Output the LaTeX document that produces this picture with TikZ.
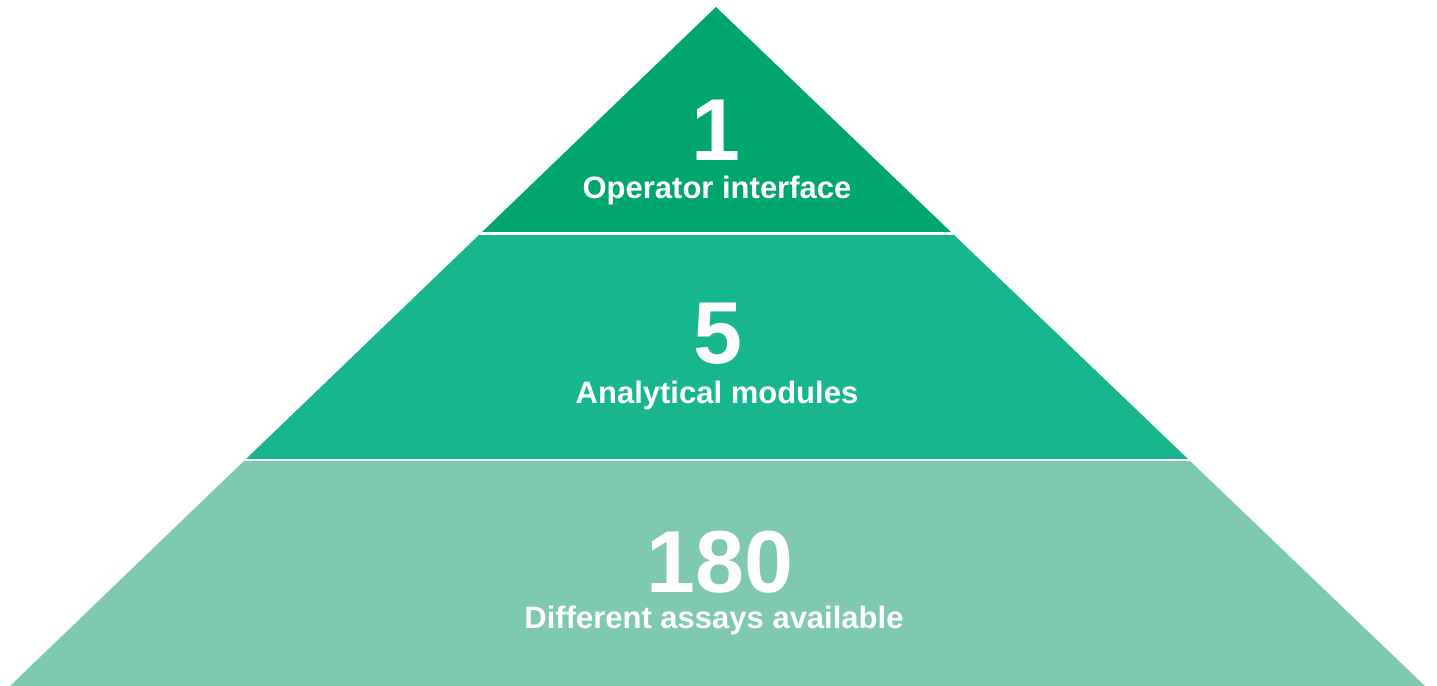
\documentclass[tikz,border=0pt]{standalone}
\usepackage{fontspec}
\setmainfont{Liberation Sans}
\definecolor{topgreen}{HTML}{00A66E}
\definecolor{midgreen}{HTML}{17B68E}
\definecolor{basegreen}{HTML}{7FCAAF}

\begin{document}
\begin{tikzpicture}[x=0.5pt,y=-0.5pt,
    bignum/.style={text=white,anchor=base,inner sep=0pt,font=\fontsize{44}{44}\selectfont\bfseries},
    tiername/.style={text=white,anchor=base,inner sep=0pt,font=\fontsize{15.5}{16}\selectfont\bfseries}]

\useasboundingbox (0,0) rectangle (1437,686);

\coordinate (apex) at (716,7);
\coordinate (baseL) at (10,686);
\coordinate (baseR) at (1425,686);

\begin{scope}
\clip (apex) -- (baseL) -- (baseR) -- cycle;
\fill[basegreen] (0,460) rectangle (1437,690); % tier.3
\fill[midgreen] (0,233) rectangle (1437,460); % tier.2
\fill[topgreen] (0,0) rectangle (1437,233); % tier.1
\draw[white,line width=1.5pt] (0,233.5) -- (1437,233.5);
\draw[white,line width=1pt] (0,460) -- (1437,460);
\end{scope}

\node[bignum] (numTop) at (716,160) {1};
\node[tiername] (nameTop) at (717,198) {Operator interface};
\node[bignum] (numMid) at (718,363) {5};
\node[tiername] (nameMid) at (717,403) {Analytical modules};
\node[bignum] (numBase) at (720,592) {180};
\node[tiername] (nameBase) at (714,628) {Different assays available};
\end{tikzpicture}
\end{document}
